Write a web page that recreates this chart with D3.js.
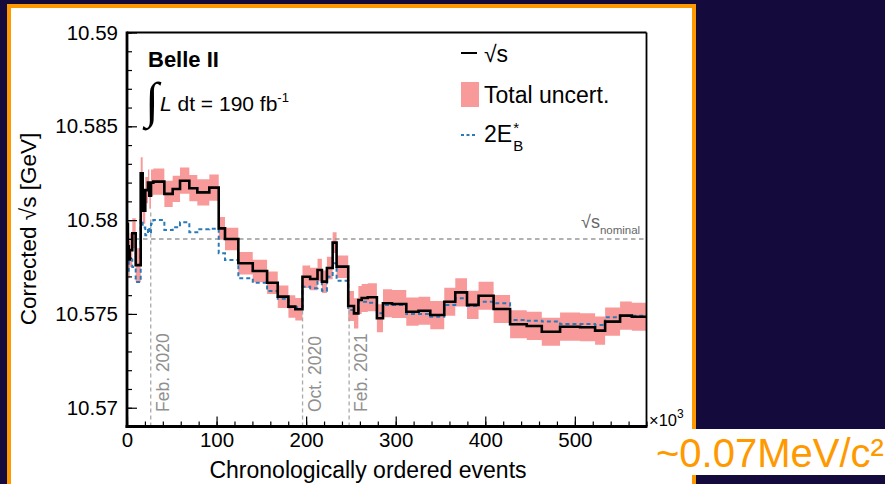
<!DOCTYPE html>
<html>
<head>
<meta charset="utf-8">
<script src="https://cdn.jsdelivr.net/npm/d3@7"></script>
<style>
  html, body { margin: 0; padding: 0; background: #140b3c; }
  svg { display: block; }
</style>
</head>
<body>
<svg id="chart" width="885" height="484"></svg>
<script>
// Bin edges in units of 10^3 chronologically ordered events
const binEdges = [0, 1, 2, 3, 5.9, 9.7, 15.3, 17.5, 20.4, 23.4,
  24.9, 26.8, 29.4, 41.7, 51, 59.2, 69.6, 78.5, 91.9, 102.4,
  109.4, 124.3, 140.4, 156.4, 168.3, 180.2, 187.9, 195.9, 204.5, 212.7,
  217.6, 223.2, 229.6, 234, 247, 253.4, 258.3, 262, 268.8, 279,
  285.8, 295.8, 311.8, 325.5, 338.6, 354.2, 366.5, 379.6, 392.5, 409.3,
  427.7, 446.3, 463.1, 483.5, 505.9, 522.6, 533.8, 550.5, 563.6, 580];

// Corrected sqrt(s) per bin [GeV]
const sqrtS = [10.5798, 10.5786, 10.5779, 10.5784, 10.5793, 10.5776, 10.5825, 10.5805, 10.5816,
  10.5820, 10.5813, 10.5820, 10.58205, 10.5814, 10.58166, 10.5821, 10.5817, 10.58148, 10.58173,
  10.57956, 10.57899, 10.5777, 10.57729, 10.57666, 10.57592, 10.57539, 10.57525, 10.57698, 10.57686,
  10.57734, 10.57672, 10.57745, 10.5788, 10.57752, 10.57542, 10.57503, 10.57574, 10.57585, 10.57589,
  10.57477, 10.57557, 10.57553, 10.57512, 10.57517, 10.57494, 10.57565, 10.57615, 10.57548, 10.57597,
  10.57526, 10.57445, 10.57436, 10.57405, 10.57432, 10.57429, 10.57411, 10.57459, 10.57491, 10.57485];

// Total uncertainty (half width) per bin [GeV]
const totalUnc = [0.0012, 0.0011, 0.0010, 0.0009, 0.0008, 0.0009, 0.00085, 0.0007, 0.0007,
  0.0007, 0.0007, 0.0007, 0.0007, 0.0007, 0.0007, 0.0007, 0.0007, 0.0007, 0.0007,
  0.0006, 0.0006, 0.0006, 0.0006, 0.0006, 0.0006, 0.0006, 0.0006, 0.0006, 0.0006,
  0.0006, 0.0006, 0.0006, 0.00055, 0.0006, 0.0008, 0.0008, 0.00075, 0.00075, 0.00075,
  0.00075, 0.00075, 0.00075, 0.00075, 0.00075, 0.00075, 0.00075, 0.00075, 0.00075, 0.00075,
  0.00075, 0.00075, 0.00075, 0.00075, 0.00075, 0.00075, 0.00075, 0.00075, 0.00075, 0.00075];

// 2E_B* per bin [GeV]
const twoEB = [10.5778, 10.5772, 10.5779, 10.5779, 10.5775, 10.5767, 10.5800, 10.5796, 10.5792,
  10.5796, 10.5793, 10.5798, 10.5800, 10.57947, 10.57962, 10.57988, 10.57935, 10.57951, 10.57954,
  10.57823, 10.57787, 10.5769, 10.57666, 10.57622, 10.57581, 10.57535, 10.57535, 10.57645, 10.57637,
  10.57672, 10.57624, 10.57698, 10.5777, 10.57677, 10.57521, 10.57521, 10.57565, 10.57565, 10.5756,
  10.57503, 10.57548, 10.57548, 10.575, 10.575, 10.57485, 10.57548, 10.57583, 10.57542, 10.57565,
  10.57557, 10.57468, 10.57464, 10.57459, 10.57446, 10.57446, 10.57441, 10.57482, 10.5749, 10.5749];

const nominalSqrtS = 10.579;

// Run-period markers
const dateLabels = ["Feb. 2020", "Oct. 2020", "Feb. 2021"];
const datePositions = [26.5, 196, 248];
const dateLineTops = [10.5805, 10.5770, 10.5752];

// Axis ticks
const xTickValues = [0, 100, 200, 300, 400, 500];
const xTickLabels = ["0", "100", "200", "300", "400", "500"];
const yTickValues = [10.57, 10.575, 10.58, 10.585, 10.59];
const yTickLabels = ["10.57", "10.575", "10.58", "10.585", "10.59"];

const W = 885, H = 484;
const FONT = "'Liberation Sans', Arial, Helvetica, sans-serif";
const svg = d3.select("#chart");

// Slide background and framed white panel
svg.append("rect").attr("width", W).attr("height", H).attr("fill", "#140b3c");
svg.append("rect").attr("x", 9).attr("y", 6).attr("width", 685).attr("height", 480)
  .attr("fill", "#ffffff").attr("stroke", "#ff9900").attr("stroke-width", 4);

const frame = { left: 127, right: 646.5, top: 32.5, bottom: 426.5 };
const x = d3.scaleLinear().domain([0, 580]).range([frame.left, frame.right]);
const y = d3.scaleLinear().domain([10.569, 10.59]).range([frame.bottom, frame.top]);

// Step points: one per bin start plus the closing edge
function stepPoints(vals, errs) {
  const pts = vals.map((v, i) => ({ x: binEdges[i], v: v, e: errs ? errs[i] : 0 }));
  const last = vals.length - 1;
  pts.push({ x: binEdges[last + 1], v: vals[last], e: errs ? errs[last] : 0 });
  return pts;
}

const plot = svg.append("g");

// Total uncertainty band
const band = d3.area()
  .x(d => x(d.x)).y0(d => y(d.v - d.e)).y1(d => y(d.v + d.e))
  .curve(d3.curveStepAfter);
plot.append("path").datum(stepPoints(sqrtS, totalUnc))
  .attr("d", band).attr("fill", "#f99a9a").attr("stroke", "none");

// Date marker lines
datePositions.forEach((p, i) => {
  plot.append("line")
    .attr("x1", x(p)).attr("x2", x(p))
    .attr("y1", frame.bottom).attr("y2", y(dateLineTops[i]))
    .attr("stroke", "#aaaaaa").attr("stroke-width", 1.3).attr("stroke-dasharray", "4,3");
  plot.append("text")
    .attr("transform", `translate(${x(p) + 18},${412}) rotate(-90)`)
    .attr("font-family", FONT).attr("font-size", 17.5).attr("fill", "#909090")
    .text(dateLabels[i]);
});

// Nominal sqrt(s)
plot.append("line")
  .attr("x1", frame.left).attr("x2", frame.right)
  .attr("y1", y(nominalSqrtS)).attr("y2", y(nominalSqrtS))
  .attr("stroke", "#999999").attr("stroke-width", 1.5).attr("stroke-dasharray", "4.5,3.5");
const nomLabel = plot.append("text")
  .attr("x", 581).attr("y", 228)
  .attr("font-family", FONT).attr("fill", "#666666");
nomLabel.append("tspan").attr("font-size", 18).text("√s");
nomLabel.append("tspan").attr("font-size", 11.5).attr("dy", 6).text("nominal");

const step = d3.line().x(d => x(d.x)).y(d => y(d.v)).curve(d3.curveStepAfter);

// 2E_B*
plot.append("path").datum(stepPoints(twoEB))
  .attr("d", step).attr("fill", "none")
  .attr("stroke", "#2a7ab8").attr("stroke-width", 2).attr("stroke-dasharray", "4,3");

// Corrected sqrt(s)
plot.append("path").datum(stepPoints(sqrtS))
  .attr("d", step).attr("fill", "none")
  .attr("stroke", "#000000").attr("stroke-width", 2.6).attr("stroke-linejoin", "miter");

// Axes: minor ticks every 20k / 1 MeV, major ticks labelled
const xMinor = d3.range(0, 581, 20);
const yMinor = d3.range(0, 21).map(i => +(10.57 + i * 0.001).toFixed(3));

function styleAxis(g) {
  g.select(".domain").remove();
  g.selectAll("line").attr("stroke", "#000").attr("stroke-width", 1.2);
  g.selectAll("text").attr("font-family", FONT).attr("font-size", 20.5).attr("fill", "#000");
}

svg.append("g").attr("transform", `translate(0,${frame.bottom})`)
  .call(d3.axisBottom(x).tickValues(xMinor).tickSizeInner(-5).tickSizeOuter(0).tickFormat(""))
  .call(styleAxis);
svg.append("g").attr("transform", `translate(0,${frame.bottom})`)
  .call(d3.axisBottom(x).tickValues(xTickValues).tickSizeInner(-10).tickSizeOuter(0)
    .tickPadding(6).tickFormat((d, i) => xTickLabels[i]))
  .call(styleAxis);

svg.append("g").attr("transform", `translate(${frame.left},0)`)
  .call(d3.axisLeft(y).tickValues(yMinor).tickSizeInner(-5).tickSizeOuter(0).tickFormat(""))
  .call(styleAxis);
svg.append("g").attr("transform", `translate(${frame.left},0)`)
  .call(d3.axisLeft(y).tickValues(yTickValues).tickSizeInner(-10).tickSizeOuter(0)
    .tickPadding(9).tickFormat((d, i) => yTickLabels[i]))
  .call(styleAxis);

// Frame
svg.append("line").attr("x1", frame.left).attr("x2", frame.right).attr("y1", frame.top).attr("y2", frame.top)
  .attr("stroke", "#000").attr("stroke-width", 1.8);
svg.append("line").attr("x1", frame.right).attr("x2", frame.right).attr("y1", frame.top).attr("y2", frame.bottom)
  .attr("stroke", "#000").attr("stroke-width", 1.8);
svg.append("line").attr("x1", frame.left).attr("x2", frame.left).attr("y1", frame.top - 0.9).attr("y2", frame.bottom + 1.4)
  .attr("stroke", "#000").attr("stroke-width", 2.8);
svg.append("line").attr("x1", frame.left - 1.4).attr("x2", frame.right + 0.9).attr("y1", frame.bottom).attr("y2", frame.bottom)
  .attr("stroke", "#000").attr("stroke-width", 2.8);

// Axis multiplier
const mult = svg.append("text").attr("x", 649).attr("y", 426)
  .attr("font-family", FONT).attr("fill", "#000");
mult.append("tspan").attr("font-size", 16.5).text("×10");
mult.append("tspan").attr("font-size", 12).attr("dy", -8).text("3");

// Axis titles
svg.append("text").attr("x", 368).attr("y", 478).attr("text-anchor", "middle")
  .attr("font-family", FONT).attr("font-size", 23).attr("fill", "#000")
  .text("Chronologically ordered events");
svg.append("text").attr("transform", "translate(36,229) rotate(-90)").attr("text-anchor", "middle")
  .attr("font-family", FONT).attr("font-size", 22.5).attr("fill", "#000")
  .text("Corrected  √s [GeV]");

// Experiment label
svg.append("text").attr("x", 148).attr("y", 67)
  .attr("font-family", FONT).attr("font-size", 22).attr("font-weight", "bold").attr("fill", "#000")
  .text("Belle II");
svg.append("text").attr("x", 145).attr("y", 117)
  .attr("font-family", "'Liberation Serif', 'DejaVu Serif', serif").attr("font-size", 50).attr("fill", "#000")
  .text("∫");
const lumi = svg.append("text").attr("x", 160).attr("y", 111)
  .attr("font-family", FONT).attr("font-size", 21).attr("fill", "#000");
lumi.append("tspan").attr("font-style", "italic").text("L");
lumi.append("tspan").text(" dt = 190 fb");
lumi.append("tspan").attr("font-size", 13).attr("dy", -9).text("-1");

// Legend
const legendX = 461, legendTextX = 484;
svg.append("line").attr("x1", legendX).attr("x2", legendX + 16).attr("y1", 53).attr("y2", 53)
  .attr("stroke", "#000").attr("stroke-width", 2);
svg.append("text").attr("x", legendTextX).attr("y", 62)
  .attr("font-family", FONT).attr("font-size", 23).attr("fill", "#000").text("√s");

svg.append("rect").attr("x", legendX).attr("y", 82).attr("width", 18).attr("height", 25)
  .attr("fill", "#f99a9a");
svg.append("text").attr("x", legendTextX).attr("y", 103)
  .attr("font-family", FONT).attr("font-size", 23).attr("fill", "#000").text("Total uncert.");

svg.append("line").attr("x1", legendX).attr("x2", legendX + 16).attr("y1", 135).attr("y2", 135)
  .attr("stroke", "#2a7ab8").attr("stroke-width", 2).attr("stroke-dasharray", "3,2.5");
const ebMain = svg.append("text").attr("x", legendTextX).attr("y", 142)
  .attr("font-family", FONT).attr("font-size", 23).attr("fill", "#000").text("2E");
const ebW = ebMain.node().getComputedTextLength();
svg.append("text").attr("x", legendTextX + ebW + 1).attr("y", 151)
  .attr("font-family", FONT).attr("font-size", 15).attr("fill", "#000").text("B");
svg.append("text").attr("x", legendTextX + ebW + 1).attr("y", 133)
  .attr("font-family", FONT).attr("font-size", 15).attr("fill", "#000").text("*");

// Resolution note
svg.append("rect").attr("x", 650).attr("y", 429).attr("width", 235).attr("height", 46).attr("fill", "#ffffff");
svg.append("text").attr("x", 656).attr("y", 467)
  .attr("font-family", FONT).attr("font-size", 40).attr("fill", "#ff9900")
  .text("~0.07MeV/c²");
</script>
</body>
</html>
